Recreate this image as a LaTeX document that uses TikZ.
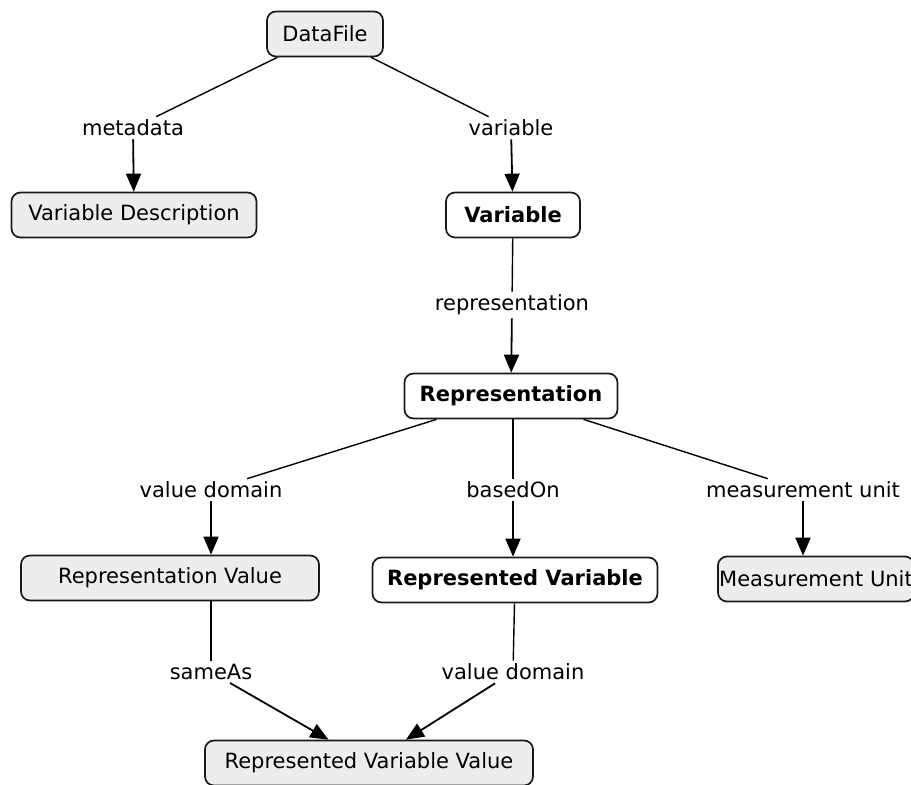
\documentclass[tikz,border=0pt]{standalone}
\usepackage{fontspec}
\setmainfont{DejaVu Sans}
\usetikzlibrary{arrows.meta}
\begin{document}
\begin{tikzpicture}[x=1pt,y=-1pt,
  concept/.style={draw=black!90, line width=1.7pt, rounded corners=9pt,
    fill=black!7, minimum height=45pt, inner sep=0pt,
    font=\fontsize{21}{25}\selectfont},
  keyconcept/.style={concept, fill=white,
    font=\fontsize{21}{25}\selectfont\bfseries},
  rel/.style={inner sep=3pt, font=\fontsize{21}{25}\selectfont},
  link/.style={line width=1.4pt, draw=black},
  arrow/.style={link, line width=1.8pt, -{Triangle[width=15pt,length=18pt]}}]
\useasboundingbox (0,0) rectangle (911,785);

% concepts
\node[concept, minimum width=116pt] (df) at (325,34) {DataFile};
\node[concept, minimum width=245pt] (vd) at (134,215) {Variable Description};
\node[keyconcept, minimum width=134pt] (var) at (513,215) {Variable};
\node[keyconcept, minimum width=213pt] (rep) at (511,396) {Representation};
\node[concept, minimum width=298pt] (rval) at (170,578) {Representation Value};
\node[keyconcept, minimum width=285pt] (rvar) at (515,580) {Represented Variable};
\node[concept, minimum width=196pt] (mu) at (816,579) {Measurement Unit};
\node[concept, minimum width=328pt] (rvv) at (369,763) {Represented Variable Value};

% relation labels
\node[rel] (lmeta) at (133,128) {metadata};
\node[rel] (lvar) at (511,128) {variable};
\node[rel] (lrep) at (512,305) {representation};
\node[rel] (ldom) at (211,490) {value domain};
\node[rel] (lbase) at (513,490) {basedOn};
\node[rel] (lunit) at (803,490) {measurement unit};
\node[rel] (lsame) at (211,672) {sameAs};
\node[rel] (ldom2) at (513,672) {value domain};

% connectors
\draw[link] (df) -- (lmeta);
\draw[arrow] (lmeta) -- (vd);
\draw[link] (df) -- (lvar);
\draw[arrow] (lvar) -- (var);
\draw[link] (var) -- (lrep);
\draw[arrow] (lrep) -- (rep);
\draw[link] (rep) -- (ldom);
\draw[arrow] (ldom) -- (ldom |- rval.north);
\draw[link] (rep.south -| lbase) -- (lbase);
\draw[arrow] (lbase) -- (lbase |- rvar.north);
\draw[link] (rep) -- (lunit);
\draw[arrow] (lunit) -- (lunit |- mu.north);
\draw[link] (rval.south -| lsame) -- (lsame);
\draw[arrow] (lsame) -- (rvv);
\draw[link] (rvar) -- (ldom2);
\draw[arrow] (ldom2) -- (rvv);
\end{tikzpicture}
\end{document}
